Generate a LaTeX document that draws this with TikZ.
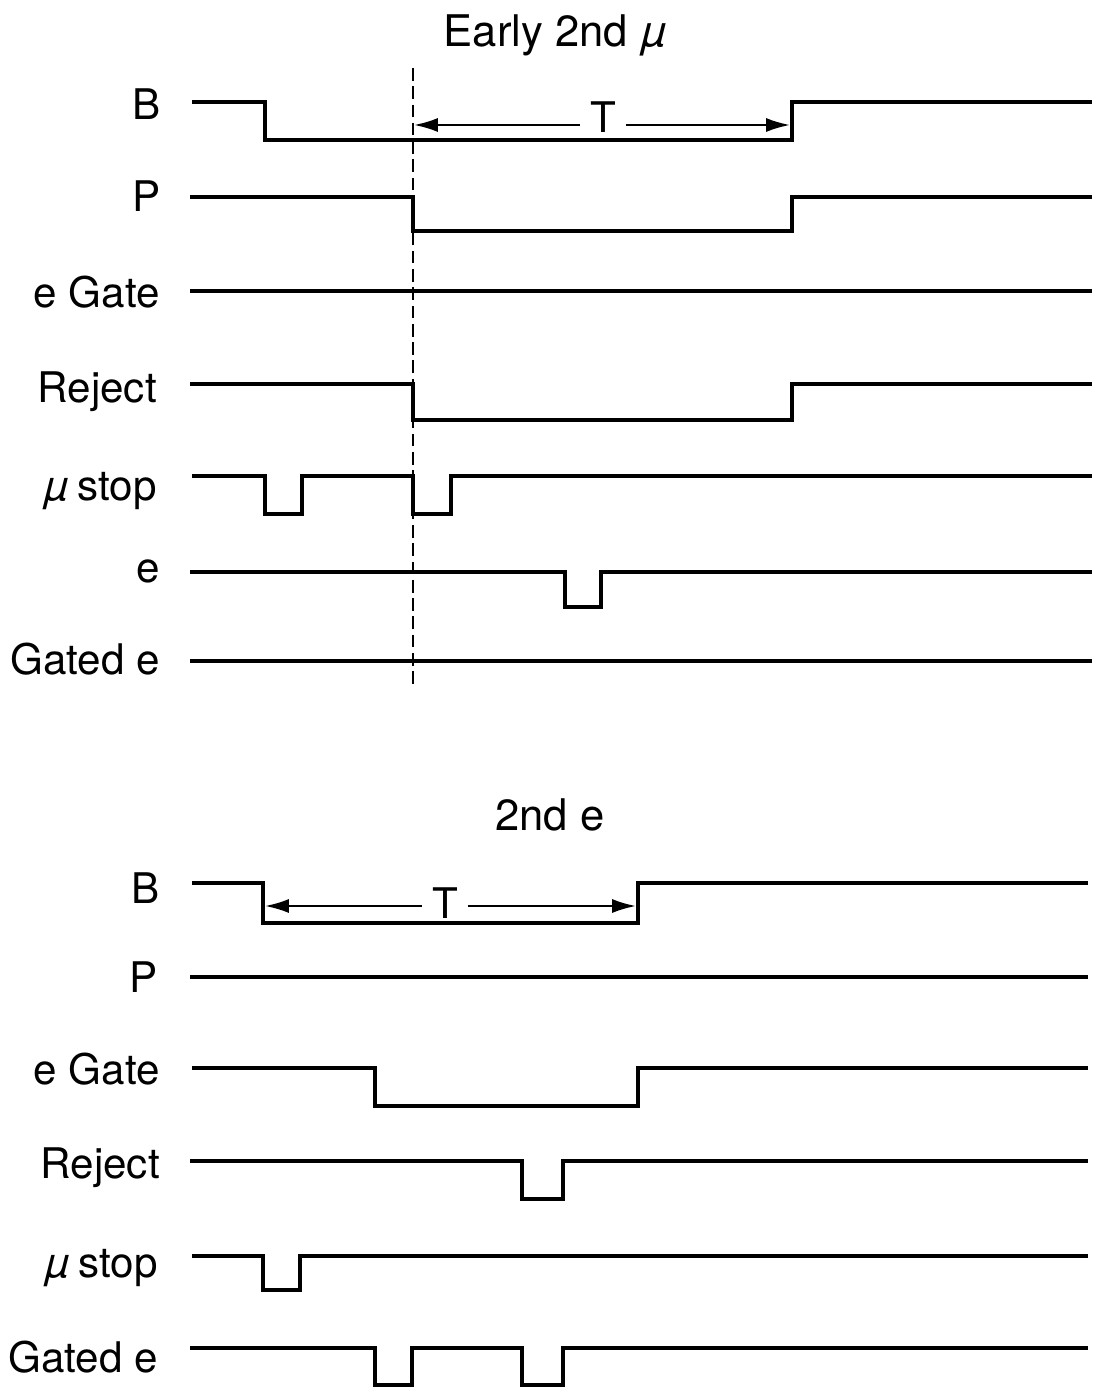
\documentclass[tikz,border=0pt]{standalone}
\usepackage{fontspec}
\setmainfont{TeX Gyre Heros}
\newfontfamily\mufont[FakeSlant=0.25]{TeX Gyre Heros}
\newcommand{\muon}{{\mufont µ}}
\usetikzlibrary{arrows.meta}

\begin{document}
\begin{tikzpicture}[x=0.025cm, y=-0.025cm]
    \tikzset{wave/.style={line width=2.3pt},
      sig/.style={anchor=base east, inner sep=0pt, font=\fontsize{30}{36}\selectfont},
      heading/.style={anchor=base, inner sep=0pt, font=\fontsize{31}{36}\selectfont},
      tlabel/.style={anchor=base, inner xsep=7pt, inner ysep=0pt, font=\fontsize{30}{36}\selectfont},
      span/.style={line width=1.6pt, -{Latex[length=17pt, width=10pt]}}}
    \useasboundingbox (0,0) rectangle (1096,1392);

    % early second muon
    \node [heading] (early) at (554, 47) {Early 2nd \muon};
    \node [sig] (b1) at (161, 120) {B};
    \node [sig] (p1) at (161, 212) {P};
    \node [sig] (gate1) at (160, 307) {e Gate};
    \node [sig] (reject1) at (157, 402) {Reject};
    \node [sig] (mustop1) at (157, 500) {\muon\ stop};
    \node [sig] (e1) at (160, 582) {e};
    \node [sig] (gated1) at (160, 674) {Gated e};

    \draw [wave] (192,102) -- (265,102) -- (265,140) -- (792,140) -- (792,102) -- (1092,102);
    \draw [wave] (190,197) -- (413,197) -- (413,231) -- (792,231) -- (792,197) -- (1092,197);
    \draw [wave] (190,291) -- (1092,291);
    \draw [wave] (190,384) -- (413,384) -- (413,420) -- (792,420) -- (792,384) -- (1092,384);
    \draw [wave] (192,476) -- (265,476) -- (265,514) -- (302,514) -- (302,476) -- (413,476)
      -- (413,514) -- (451,514) -- (451,476) -- (1092,476);
    \draw [wave] (190,572) -- (565,572) -- (565,607) -- (601,607) -- (601,572) -- (1092,572);
    \draw [wave] (190,661) -- (1092,661);

    \coordinate (dtop) at (413, 68);
    \coordinate (dbot) at (413, 685);
    \draw [line width=1.5pt, dash pattern=on 9pt off 4pt] (dtop) -- (dbot);

    \node [tlabel] (t1) at (603, 133) {T};
    \coordinate (t1l) at (414, 125);
    \coordinate (t1r) at (790, 125);
    \draw [span] (t1l -| t1.west) -- (t1l);
    \draw [span] (t1r -| t1.east) -- (t1r);

    % second electron
    \node [heading] (second) at (550, 830) {2nd e};
    \node [sig] (b2) at (160, 903) {B};
    \node [sig] (p2) at (158, 992) {P};
    \node [sig] (gate2) at (160, 1084) {e Gate};
    \node [sig] (reject2) at (160, 1178) {Reject};
    \node [sig] (mustop2) at (158, 1277) {\muon\ stop};
    \node [sig] (gated2) at (158, 1372) {Gated e};

    \draw [wave] (192,883) -- (263,883) -- (263,923) -- (638,923) -- (638,883) -- (1088,883);
    \draw [wave] (190,977) -- (1088,977);
    \draw [wave] (192,1068) -- (375,1068) -- (375,1106) -- (638,1106) -- (638,1068) -- (1088,1068);
    \draw [wave] (190,1161) -- (522,1161) -- (522,1199) -- (563,1199) -- (563,1161) -- (1088,1161);
    \draw [wave] (192,1256) -- (263,1256) -- (263,1290) -- (300,1290) -- (300,1256) -- (1088,1256);
    \draw [wave] (190,1348) -- (375,1348) -- (375,1385) -- (412,1385) -- (412,1348) -- (522,1348)
      -- (522,1385) -- (563,1385) -- (563,1348) -- (1088,1348);

    \node [tlabel] (t2) at (445, 918) {T};
    \coordinate (t2l) at (265, 906);
    \coordinate (t2r) at (636, 906);
    \draw [span] (t2l -| t2.west) -- (t2l);
    \draw [span] (t2r -| t2.east) -- (t2r);
\end{tikzpicture}
\end{document}
